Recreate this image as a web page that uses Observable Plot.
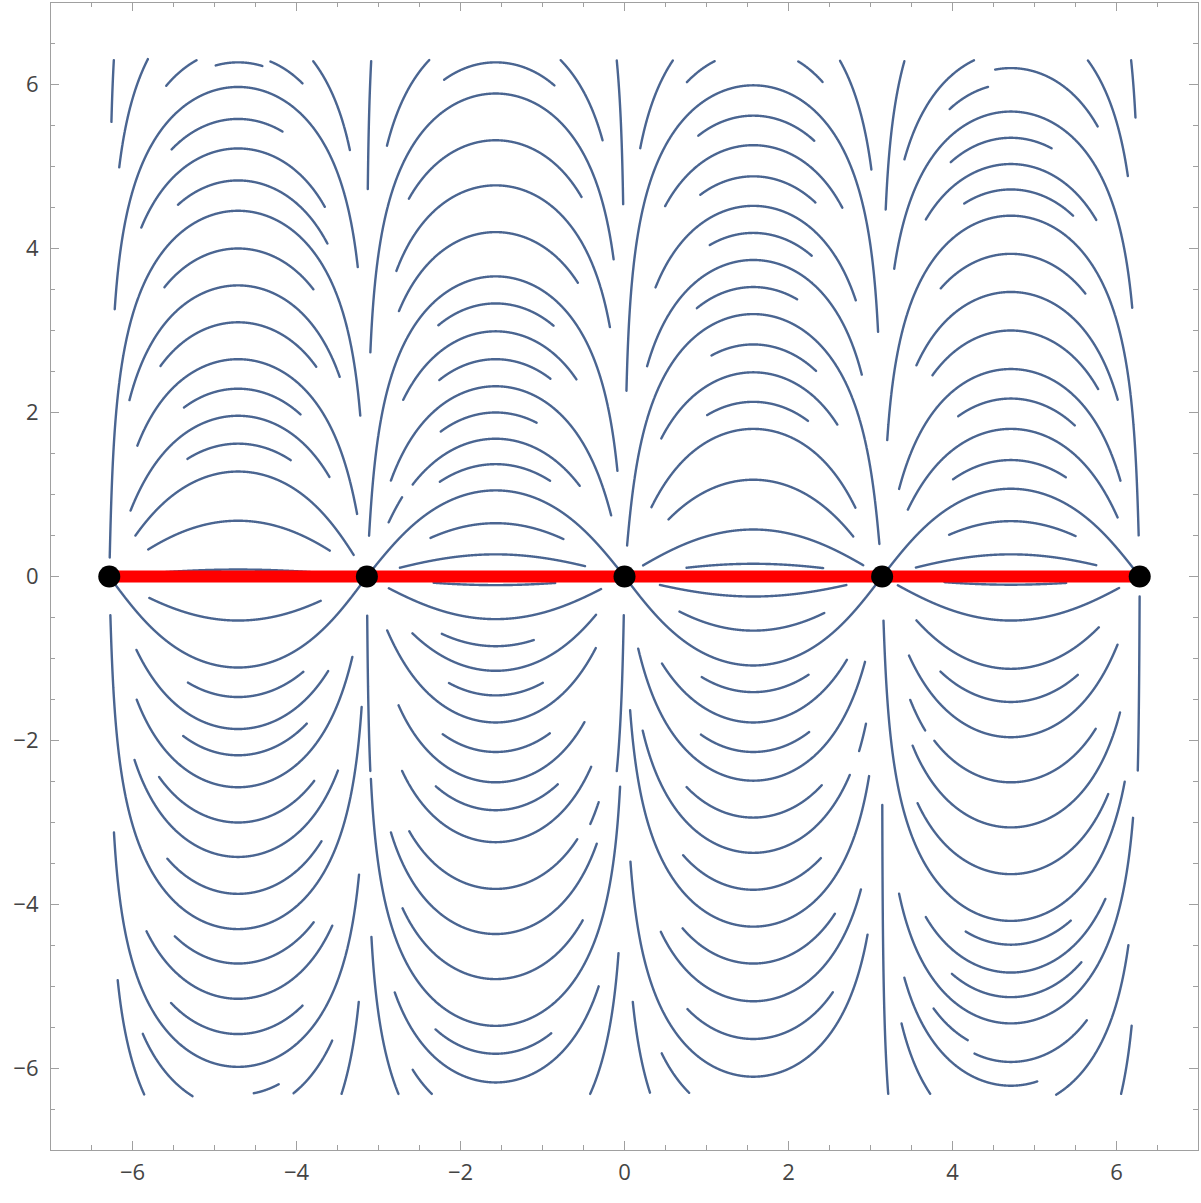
<!DOCTYPE html>
<html><head><meta charset="utf-8">
<script src="https://cdn.jsdelivr.net/npm/d3@7"></script>
<script src="https://cdn.jsdelivr.net/npm/@observablehq/plot@0.6"></script>
<style>body{margin:0;background:#fff;}</style>
</head><body><div id="chart"></div>
<script>
// Stream lines of the field (Re sin z, Im sin z): each curve is sinh|y| = K |sin x|.
// Each piece: [peak value P (null = from the endpoints), x0, y0, x1, y1].
const i1Upper = [
 [null, -6.228, 6.29, -6.268, 5.54],
 [7.1, -5.780, 6.29, -6.167, 4.99],
 [6.43, -5.598, 5.99, -5.211, 6.28],
 [6.27, -4.988, 6.24, -4.418, 6.22],
 [6.36, -4.317, 6.28, -3.930, 6.01],
 [6.78, -3.789, 6.29, -3.350, 5.20],
 [5.97, -6.228, 3.26, -3.26, 3.77],
 [5.58, -5.537, 5.22, -4.175, 5.42],
 [5.22, -5.902, 4.26, -3.667, 4.50],
 [4.83, -5.455, 4.545, -3.625, 4.06],
 [4.46, -6.275, 0.235, -3.225, 1.96],
 [4.0, -5.587, 3.51, -3.782, 3.51],
 [3.55, -6.045, 2.15, -3.484, 2.43],
 [3.10, -5.63, 2.55, -3.768, 2.55],
 [2.65, -5.955, 1.60, -3.26, 0.765],
 [2.29, -5.37, 2.06, -3.95, 1.98],
 [1.96, -6.024, 0.805, -3.606, 1.21],
 [1.62, -5.333, 1.435, -4.073, 1.415],
 [1.28, -5.963, 0.5, -3.317, 0.256],
 [0.68, -5.801, 0.317, -3.606, 0.296],
 [0.085, -6.1, 0.03, -3.3, 0.03]
];
const i1Lower = [
 [-0.537, -5.801, -0.272, -3.707, -0.293],
 [-1.11, -6.27, -0.02, -3.155, -0.02],
 [-1.47, -5.333, -1.31, -3.911, -1.17],
 [-1.86, -5.963, -0.90, -3.626, -1.146],
 [-2.18, -5.393, -1.96, -3.869, -1.80],
 [-2.57, -5.963, -1.51, -3.317, -0.98],
 [-3.00, -5.679, -2.447, -3.789, -2.488],
 [-3.42, -5.984, -2.24, -3.484, -2.37],
 [-3.87, -5.577, -3.443, -3.707, -3.22],
 [-4.30, -6.268, -0.476, -3.22, -1.59],
 [-4.72, -5.496, -4.40, -3.789, -4.215],
 [-5.15, -5.85, -4.34, -3.565, -4.26],
 [-5.58, -5.537, -5.21, -3.93, -5.23],
 [-5.98, -6.228, -3.12, -3.24, -3.63],
 [-7.2, -6.187, -4.93, -5.85, -6.31],
 [-6.5, -5.882, -5.58, -5.252, -6.31],
 [-6.32, -4.52, -6.31, -4.216, -6.19],
 [-6.55, -4.03, -6.31, -3.565, -5.66],
 [-7.5, -3.443, -6.31, -3.24, -5.19]
];
const i2Upper = [
 [null, -3.089, 6.29, -3.130, 4.73],
 [6.67, -2.37, 6.29, -2.899, 5.26],
 [6.27, -2.207, 6.07, -0.845, 6.0],
 [6.65, -0.784, 6.29, -0.268, 5.32],
 [null, -0.094, 6.29, -0.012, 4.545],
 [5.89, -3.10, 2.735, -0.134, 3.87],
 [5.32, -2.634, 4.61, -0.52, 4.63],
 [4.77, -2.788, 3.73, -0.174, 3.04],
 [4.20, -2.756, 3.24, -0.561, 3.59],
 [3.66, -3.12, 0.5, -0.094, 1.29],
 [3.33, -2.268, 3.06, -0.866, 3.06],
 [2.99, -2.695, 2.155, -0.582, 2.41],
 [2.65, -2.268, 2.41, -0.906, 2.41],
 [2.32, -2.857, 1.17, -0.174, 0.744],
 [2.0, -2.248, 1.78, -1.07, 1.88],
 [1.68, -2.593, 1.13, -0.54, 1.11],
 [1.72, -2.716, 0.967, -2.878, 0.662],
 [1.37, -2.248, 1.15, -0.906, 1.17],
 [1.05, -3.13, 0.02, -0.01, 0.02],
 [0.65, -2.37, 0.48, -0.744, 0.46],
 [0.27, -2.74, 0.113, -0.48, 0.134]
];
const i2Lower = [
 [-0.105, -2.33, -0.09, -0.845, -0.09],
 [-0.52, -2.878, -0.15, -0.277, -0.17],
 [-0.85, -2.228, -0.70, -1.11, -0.76],
 [-1.15, -2.593, -0.70, -0.338, -0.476],
 [-1.45, -2.146, -1.31, -0.988, -1.31],
 [-1.78, -2.899, -0.66, -0.338, -0.88],
 [-2.14, -2.228, -1.94, -0.906, -1.92],
 [-2.51, -2.756, -1.57, -0.48, -1.78],
 [-2.85, -2.309, -2.57, -0.805, -2.54],
 [-3.24, -2.716, -2.37, -0.45, -2.3],
 [-3.81, -2.613, -3.10, -0.582, -3.20],
 [null, -0.317, -2.75, -0.418, -3.02],
 [-4.36, -2.857, -3.12, -0.338, -3.26],
 [-4.91, -2.716, -4.05, -0.5, -4.2],
 [-5.48, -3.10, -2.47, -0.052, -2.57],
 [null, -3.128, -0.476, -3.10, -2.37],
 [null, -0.033, -0.476, -0.094, -2.37],
 [-5.82, -2.309, -5.53, -0.894, -5.57],
 [-6.17, -2.817, -5.08, -0.317, -5.0],
 [-6.65, -2.593, -6.02, -2.35, -6.31],
 [-7.29, -3.10, -4.40, -2.756, -6.31],
 [-7.21, -0.073, -4.59, -0.418, -6.31]
];
const i3Upper = [
 [6.88, 0.594, 6.29, 0.187, 5.22],
 [6.4, 1.10, 6.28, 0.756, 6.03],
 [6.44, 2.118, 6.28, 2.415, 6.03],
 [7.0, 2.626, 6.29, 3.012, 4.97],
 [5.99, 0.024, 2.27, 3.094, 2.98],
 [5.62, 0.898, 5.38, 2.32, 5.32],
 [5.26, 0.492, 4.52, 2.666, 4.50],
 [4.88, 0.919, 4.66, 2.333, 4.565],
 [4.52, 0.37, 3.53, 2.83, 3.37],
 [4.19, 1.04, 4.04, 2.28, 3.91],
 [3.86, 0.268, 2.57, 2.93, 2.47],
 [3.53, 0.878, 3.28, 2.11, 3.39],
 [3.2, 0.045, 0.378, 3.114, 0.40],
 [2.83, 1.061, 2.695, 2.34, 2.51],
 [2.49, 0.451, 1.68, 2.605, 1.86],
 [2.13, 1.0, 1.98, 2.24, 1.90],
 [1.80, 0.329, 0.845, 2.83, 0.845],
 [1.18, 0.533, 0.70, 2.78, 0.48],
 [0.573, 0.228, 0.134, 2.91, 0.134],
 [0.155, 0.756, 0.106, 2.423, 0.106]
];
const i3Lower = [
 [-0.244, 0.43, -0.11, 2.707, -0.11],
 [-0.66, 0.675, -0.42, 2.443, -0.455],
 [-1.085, 0.02, -0.02, 3.12, -0.02],
 [-1.41, 0.939, -1.23, 2.252, -1.21],
 [-1.78, 0.451, -1.065, 2.686, -1.0],
 [-2.14, 0.939, -1.92, 2.252, -1.90],
 [-2.49, 0.167, -0.88, 2.95, -1.045],
 [-2.94, 0.756, -2.57, 2.40, -2.54],
 [-3.37, 0.228, -1.88, 2.72, -2.41],
 [-3.4, 2.98, -1.80, 2.90, -2.14],
 [-3.82, 0.715, -3.40, 2.39, -3.43],
 [-4.27, 0.065, -1.63, 2.98, -2.43],
 [-4.72, 0.695, -4.30, 2.577, -4.12],
 [-5.18, 0.43, -4.34, 2.854, -3.81],
 [-5.64, 0.765, -5.28, 2.54, -5.07],
 [-6.10, 0.085, -3.48, 2.935, -4.36],
 [-7.48, 0.098, -5.19, 0.309, -6.29],
 [-6.64, 0.451, -5.82, 0.796, -6.29]
];
const i4Upper = [
 [7.6, 3.374, 6.29, 3.191, 4.48],
 [6.4, 4.268, 6.28, 3.415, 5.09],
 [6.01, 4.43, 5.98, 3.963, 5.70],
 [6.2, 4.52, 6.18, 5.772, 5.49],
 [6.82, 5.65, 6.29, 6.138, 4.89],
 [null, 6.179, 6.29, 6.232, 5.60],
 [5.67, 3.30, 3.75, 6.2, 3.28],
 [5.35, 3.984, 5.05, 5.211, 5.23],
 [5.03, 3.68, 4.35, 5.765, 4.36],
 [4.72, 4.146, 4.545, 5.467, 4.40],
 [4.40, 3.235, 1.66, 6.27, 0.5],
 [3.935, 3.862, 3.51, 5.618, 3.45],
 [3.47, 3.58, 2.57, 6.008, 2.155],
 [3.0, 3.76, 2.45, 5.78, 2.29],
 [2.53, 3.34, 1.07, 6.06, 1.17],
 [2.17, 4.065, 1.96, 5.488, 1.84],
 [1.80, 3.459, 0.813, 6.016, 0.723],
 [1.42, 4.004, 1.19, 5.387, 1.22],
 [1.07, 3.16, 0.02, 6.265, 0.02],
 [0.675, 3.963, 0.5, 5.5, 0.49],
 [0.27, 3.558, 0.094, 5.752, 0.134]
];
const i4Lower = [
 [-0.10, 3.902, -0.09, 5.387, -0.09],
 [-0.537, 3.333, -0.11, 6.037, -0.15],
 [-1.126, 3.558, -0.537, 5.805, -0.638],
 [-1.53, 3.841, -1.17, 5.537, -1.21],
 [-1.96, 3.476, -0.963, 6.037, -0.84],
 [-2.55, 3.476, -1.51, 3.659, -1.88],
 [-2.51, 3.78, -2.0, 5.752, -1.86],
 [-3.06, 3.516, -2.06, 6.037, -1.655],
 [-3.63, 3.577, -2.76, 5.894, -2.65],
 [-4.20, 3.162, -0.537, 6.10, -2.5],
 [-4.49, 4.155, -4.34, 5.447, -4.2],
 [-4.83, 3.68, -4.15, 5.874, -3.94],
 [-5.13, 3.992, -4.845, 5.569, -4.70],
 [-5.45, 3.354, -3.87, 6.2, -2.94],
 [-5.8, 3.77, -5.27, 4.18, -5.66],
 [-5.92, 4.268, -5.82, 5.643, -5.42],
 [-6.21, 3.41, -4.89, 5.04, -6.18],
 [-6.48, 5.26, -6.31, 6.146, -4.5],
 [-6.9, 3.374, -5.45, 3.72, -6.31],
 [-7.8, 6.06, -6.31, 6.187, -5.48],
 [-6.1, 6.275, -0.25, 6.26, -2.37],
 [null, 3.155, -2.79, 3.216, -6.31]
];
// Equilibria (multiples of pi) and the invariant real axis between them
const equilibria = [-2, -1, 0, 1, 2];
const xTicks = [-6, -4, -2, 0, 2, 4, 6];
const yTicks = [-6, -4, -2, 0, 2, 4, 6];
const minorTicks = d3.range(-7, 7.001, 0.5).filter(v => v % 2 !== 0);

function samplePiece(piece, id) {
  const [P, x0, y0, x1, y1] = piece;
  const a = Math.floor(((x0 + x1) / 2) / Math.PI) * Math.PI;
  let K, s;
  if (P == null) {
    const t0 = Math.abs(Math.sin(x0 - a)), t1 = Math.abs(Math.sin(x1 - a));
    const yy = t0 > t1 ? y0 : y1, tt = Math.max(t0, t1);
    K = Math.sinh(Math.abs(yy)) / tt; s = Math.sign(yy);
  } else { K = Math.sinh(Math.abs(P)); s = Math.sign(P); }
  const thetas = [];
  for (let i = 1; i < 900; i++) thetas.push(Math.PI * i / 900);
  const ymax = Math.min(Math.asinh(K), 6.6);
  for (let i = 0; i <= 500; i++) {
    const r = Math.sinh(ymax * i / 500) / K;
    if (r < 1) { const th = Math.asin(r); thetas.push(th, Math.PI - th); }
  }
  thetas.sort((p, q) => p - q);
  const pts = thetas.map(th => ({x: a + th, y: s * Math.asinh(K * Math.sin(th)), id}));
  const nearest = (px, py) => {
    let bi = 0, bd = Infinity;
    pts.forEach((p, i) => { const d = (p.x - px) ** 2 + (p.y - py) ** 2; if (d < bd) { bd = d; bi = i; } });
    return bi;
  };
  let i0 = nearest(x0, y0), i1 = nearest(x1, y1);
  if (i0 > i1) [i0, i1] = [i1, i0];
  return pts.slice(i0, i1 + 1);
}

const allPieces = [...i1Upper, ...i1Lower, ...i2Upper, ...i2Lower, ...i3Upper, ...i3Lower, ...i4Upper, ...i4Lower];
const streamPts = allPieces.flatMap((p, i) => samplePiece(p, i));
const axisLine = [{x: equilibria[0] * Math.PI, y: 0}, {x: equilibria[equilibria.length - 1] * Math.PI, y: 0}];
const fmt = d => d < 0 ? "\u2212" + (-d) : String(d);
const lineColor = "#4a6591";
const frameColor = "#a0a0a0";
const majLen = 9 / 82, minLen = 5 / 82;

const chart = Plot.plot({
  width: 1201, height: 1203,
  marginLeft: 50, marginRight: 3, marginTop: 2, marginBottom: 53,
  x: {domain: [-7, 7], label: null},
  y: {domain: [-7, 7], label: null},
  style: {fontFamily: "'Open Sans', 'DejaVu Sans', sans-serif", fontSize: "22px", background: "#fff"},
  marks: [
    Plot.line(streamPts, {x: "x", y: "y", z: "id", stroke: lineColor, strokeWidth: 2.4, curve: "linear"}),
    Plot.line(axisLine, {x: "x", y: "y", stroke: "#ff0000", strokeWidth: 12}),
    Plot.dot(equilibria, {x: d => d * Math.PI, y: 0, r: 11, fill: "black", stroke: "none"}),
    Plot.ruleX(xTicks, {x: d => d, y1: -7, y2: -7 + majLen, stroke: frameColor}),
    Plot.ruleX(xTicks, {x: d => d, y1: 7, y2: 7 - majLen, stroke: frameColor}),
    Plot.ruleX(minorTicks, {x: d => d, y1: -7, y2: -7 + minLen, stroke: frameColor}),
    Plot.ruleX(minorTicks, {x: d => d, y1: 7, y2: 7 - minLen, stroke: frameColor}),
    Plot.ruleY(yTicks, {y: d => d, x1: -7, x2: -7 + majLen, stroke: frameColor}),
    Plot.ruleY(yTicks, {y: d => d, x1: 7, x2: 7 - majLen, stroke: frameColor}),
    Plot.ruleY(minorTicks, {y: d => d, x1: -7, x2: -7 + minLen, stroke: frameColor}),
    Plot.ruleY(minorTicks, {y: d => d, x1: 7, x2: 7 - minLen, stroke: frameColor}),
    Plot.axisX(xTicks, {tickSize: 0, tickPadding: 14, tickFormat: fmt, fill: "#444", fontSize: 22, label: null}),
    Plot.axisY(yTicks, {tickSize: 0, tickPadding: 12, tickFormat: fmt, fill: "#444", fontSize: 22, label: null}),
    Plot.frame({stroke: frameColor, strokeWidth: 1})
  ]
});
document.getElementById("chart").appendChild(chart);
</script>
</body></html>
